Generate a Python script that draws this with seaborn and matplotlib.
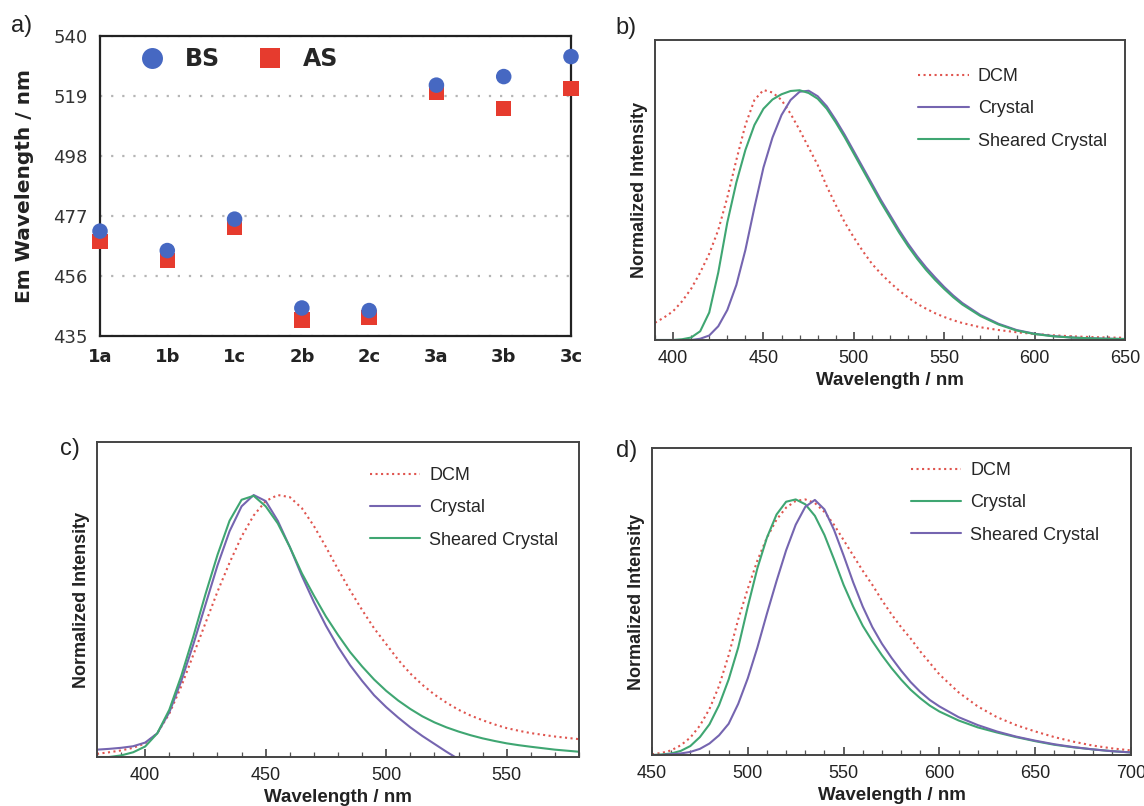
import matplotlib
matplotlib.use('Agg')
import matplotlib.pyplot as plt
import seaborn as sns
import pandas as pd
from matplotlib.ticker import MultipleLocator

# panel a: emission maxima before (BS) and after (AS) shearing
compounds = ['1a', '1b', '1c', '2b', '2c', '3a', '3b', '3c']
bs_nm = [471.7, 464.9, 475.9, 444.8, 443.9, 522.8, 525.8, 532.8]
as_nm = [468.1, 461.4, 472.9, 440.6, 441.5, 520.2, 514.6, 521.7]
a_yticks = [435, 456, 477, 498, 519, 540]

# panel b spectra
wl_b = [390, 395, 400, 405, 410, 415, 420, 425, 430, 435, 440, 445, 450, 455, 460,
        465, 470, 475, 480, 485, 490, 495, 500, 505, 510, 515, 520, 525, 530, 535,
        540, 545, 550, 555, 560, 570, 580, 590, 600, 610, 620, 630, 640, 650]
b_dcm = [0.069, 0.09, 0.115, 0.155, 0.205, 0.27, 0.345, 0.44, 0.57, 0.72, 0.86, 0.96,
         1.0, 0.99, 0.96, 0.905, 0.84, 0.77, 0.70, 0.615, 0.54, 0.47, 0.41, 0.355,
         0.305, 0.265, 0.23, 0.198, 0.17, 0.145, 0.125, 0.107, 0.092, 0.079, 0.068,
         0.051, 0.04, 0.031, 0.024, 0.019, 0.015, 0.012, 0.01, 0.009]
b_crystal = [0, 0, 0, 0, 0.0, 0.005, 0.018, 0.055, 0.12, 0.22, 0.36, 0.53, 0.69, 0.81,
             0.9, 0.96, 0.993, 0.997, 0.975, 0.935, 0.88, 0.82, 0.755, 0.69, 0.625,
             0.56, 0.5, 0.44, 0.385, 0.335, 0.29, 0.25, 0.212, 0.178, 0.148, 0.1,
             0.065, 0.04, 0.025, 0.016, 0.01, 0.007, 0.005, 0.004]
b_sheared = [0, 0, 0.0, 0.003, 0.01, 0.035, 0.11, 0.27, 0.47, 0.63, 0.76, 0.86, 0.925,
             0.962, 0.983, 0.996, 0.999, 0.988, 0.965, 0.925, 0.87, 0.81, 0.745, 0.68,
             0.615, 0.55, 0.49, 0.43, 0.375, 0.325, 0.28, 0.24, 0.204, 0.171, 0.142,
             0.096, 0.062, 0.038, 0.024, 0.015, 0.01, 0.007, 0.005, 0.004]

# panel c spectra
wl_c = [380, 385, 390, 395, 400, 405, 410, 415, 420, 425, 430, 435, 440, 445, 450,
        455, 460, 465, 470, 475, 480, 485, 490, 495, 500, 505, 510, 515, 520, 525,
        530, 535, 540, 545, 550, 555, 560, 570, 580]
c_dcm = [0.012, 0.018, 0.025, 0.035, 0.052, 0.09, 0.165, 0.27, 0.39, 0.51, 0.63, 0.74,
         0.84, 0.92, 0.975, 0.998, 0.99, 0.948, 0.88, 0.8, 0.715, 0.635, 0.56, 0.49,
         0.43, 0.37, 0.318, 0.275, 0.238, 0.207, 0.18, 0.158, 0.14, 0.124, 0.11,
         0.1, 0.091, 0.078, 0.068]
c_crystal = [0.028, 0.031, 0.035, 0.041, 0.055, 0.09, 0.17, 0.29, 0.43, 0.58, 0.73,
             0.86, 0.955, 0.998, 0.975, 0.9, 0.8, 0.69, 0.59, 0.5, 0.42, 0.35, 0.29,
             0.235, 0.19, 0.15, 0.113, 0.08, 0.05, 0.02, -0.008, -0.03, -0.05, -0.07,
             -0.09, -0.1, -0.11, -0.13, -0.15]
c_sheared = [0.0, 0.0, 0.006, 0.018, 0.04, 0.09, 0.18, 0.31, 0.46, 0.62, 0.77, 0.9,
             0.98, 0.995, 0.955, 0.89, 0.8, 0.7, 0.615, 0.535, 0.465, 0.4, 0.345,
             0.295, 0.252, 0.215, 0.183, 0.155, 0.132, 0.113, 0.097, 0.083, 0.071,
             0.061, 0.052, 0.045, 0.039, 0.028, 0.02]

# panel d spectra
wl_d = [450, 455, 460, 465, 470, 475, 480, 485, 490, 495, 500, 505, 510, 515, 520,
        525, 530, 535, 540, 545, 550, 555, 560, 565, 570, 575, 580, 585, 590, 595,
        600, 610, 620, 630, 640, 650, 660, 670, 680, 690, 700]
d_dcm = [0.003, 0.008, 0.018, 0.038, 0.068, 0.115, 0.18, 0.27, 0.39, 0.53, 0.65, 0.76,
         0.85, 0.92, 0.967, 0.993, 0.999, 0.985, 0.95, 0.9, 0.84, 0.78, 0.72, 0.665,
         0.605, 0.55, 0.5, 0.455, 0.405, 0.36, 0.315, 0.245, 0.19, 0.148, 0.117,
         0.092, 0.07, 0.052, 0.037, 0.026, 0.018]
d_crystal = [0.0, 0.002, 0.006, 0.016, 0.035, 0.07, 0.12, 0.195, 0.295, 0.42, 0.58,
             0.73, 0.85, 0.94, 0.99, 0.999, 0.98, 0.935, 0.86, 0.765, 0.665, 0.58,
             0.505, 0.445, 0.39, 0.34, 0.295, 0.255, 0.222, 0.193, 0.17, 0.135, 0.108,
             0.088, 0.07, 0.054, 0.04, 0.03, 0.022, 0.015, 0.01]
d_sheared = [0.0, 0.0, 0.003, 0.006, 0.012, 0.024, 0.045, 0.077, 0.122, 0.2, 0.3,
             0.42, 0.553, 0.68, 0.8, 0.9, 0.97, 0.997, 0.96, 0.88, 0.78, 0.675,
             0.58, 0.5, 0.435, 0.38, 0.33, 0.285, 0.247, 0.215, 0.19, 0.148, 0.117,
             0.092, 0.072, 0.056, 0.042, 0.031, 0.022, 0.015, 0.01]

RED = '#e0554f'
PURPLE = '#7565b0'
GREEN = '#3fa672'
SANS = 'Liberation Sans'

sns.set_style('white')
plt.rcParams['font.family'] = ['DejaVu Sans']

W, H = 1144, 806
fig = plt.figure(figsize=(W / 100, H / 100), dpi=100)


def box(l, t, r, b):
    return [l / W, 1 - b / H, (r - l) / W, (b - t) / H]


# ---- panel a ----
ax_a = fig.add_axes(box(100, 36, 571, 336))
df_a = pd.DataFrame({
    'compound': compounds + compounds,
    'nm': as_nm + bs_nm,
    'state': ['AS'] * len(compounds) + ['BS'] * len(compounds),
})
sns.scatterplot(data=df_a, x='compound', y='nm', hue='state', style='state',
                hue_order=['BS', 'AS'], style_order=['BS', 'AS'],
                palette={'BS': '#4668c2', 'AS': '#e63b2e'},
                markers={'BS': 'o', 'AS': 's'}, s=125, linewidth=0, ax=ax_a)
for coll in ax_a.collections:
    coll.set_clip_on(False)
    coll.set_zorder(5)
ax_a.set_xlim(0, 7)
ax_a.set_ylim(435, 540)
ax_a.set_yticks(a_yticks)
ax_a.set_yticklabels([str(v) for v in a_yticks], fontsize=13, color='#333333')
ax_a.set_xticks(range(len(compounds)))
ax_a.set_xticklabels(compounds, fontsize=13, fontweight='bold', color='#222222')
ax_a.tick_params(length=0, pad=9)
ax_a.grid(axis='y', color='#b5b5b5', linestyle=(0, (1, 4)), linewidth=1.6)
ax_a.set_xlabel('')
ax_a.set_ylabel('Em Wavelength / nm', fontsize=14.5, fontweight='bold', color='#222222')
ax_a.yaxis.set_label_coords(-0.14, 0.5)
for sp in ax_a.spines.values():
    sp.set_color('#222222')
    sp.set_linewidth(1.6)
h, l = ax_a.get_legend_handles_labels()
ax_a.legend(h, l, loc='center left', bbox_to_anchor=(0.085, 0.923), ncol=2,
            frameon=False, markerscale=1.35, handlelength=1.0, handletextpad=0.9,
            columnspacing=1.6, borderaxespad=0, borderpad=0,
            prop={'weight': 'bold', 'size': 17})


# ---- spectra panels ----
def spectrum_panel(rect, wl, series, xlim, leg_xy):
    ax = fig.add_axes(rect)
    for label, vals, color, ls in series:
        sns.lineplot(x=wl, y=vals, ax=ax, color=color, linestyle=ls,
                     linewidth=1.5, label=label, sort=False, estimator=None)
    ax.set_xlim(*xlim)
    ax.set_ylim(0, 1.2)
    ax.set_yticks([])
    ax.xaxis.set_major_locator(MultipleLocator(50))
    ax.xaxis.set_minor_locator(MultipleLocator(10))
    ax.tick_params(axis='x', which='both', bottom=True, top=False)
    ax.tick_params(axis='x', which='major', direction='in', length=6, width=1.2,
                   color='#444444', pad=7, labelsize=13, labelcolor='#222222')
    ax.tick_params(axis='x', which='minor', direction='in', length=3.5, width=0.9,
                   color='#555555')
    for t in ax.get_xticklabels():
        t.set_fontfamily(SANS)
    ax.set_xlabel('Wavelength / nm', fontsize=13.5, fontweight='bold',
                  fontfamily=SANS, color='#222222', labelpad=4)
    ax.set_ylabel('Normalized Intensity', fontsize=13, fontweight='bold',
                  fontfamily=SANS, color='#222222', labelpad=5)
    for sp in ax.spines.values():
        sp.set_color('#444444')
        sp.set_linewidth(1.4)
    ax.legend(loc='upper left', bbox_to_anchor=leg_xy, frameon=False,
              handlelength=2.8, handletextpad=0.5, labelspacing=0.85,
              borderaxespad=0, borderpad=0,
              prop={'family': SANS, 'size': 13})
    return ax


spectrum_panel(box(655, 40, 1125, 340), wl_b,
               [('DCM', b_dcm, RED, ':'), ('Crystal', b_crystal, PURPLE, '-'),
                ('Sheared Crystal', b_sheared, GREEN, '-')],
               (390, 650), (0.56, 0.907))
spectrum_panel(box(97, 442, 579, 757), wl_c,
               [('DCM', c_dcm, RED, ':'), ('Crystal', c_crystal, PURPLE, '-'),
                ('Sheared Crystal', c_sheared, GREEN, '-')],
               (380, 580), (0.566, 0.921))
spectrum_panel(box(652, 448, 1131, 755), wl_d,
               [('DCM', d_dcm, RED, ':'), ('Crystal', d_crystal, GREEN, '-'),
                ('Sheared Crystal', d_sheared, PURPLE, '-')],
               (450, 700), (0.54, 0.954))

# panel letters
for letter, (px, py) in {'a)': (22, 26), 'b)': (626, 28),
                         'c)': (70, 449), 'd)': (627, 451)}.items():
    fig.text(px / W, 1 - py / H, letter, fontsize=17, fontfamily=SANS,
             color='#222222', ha='center', va='center')

fig.savefig('out.png', dpi=100)
plt.close(fig)
